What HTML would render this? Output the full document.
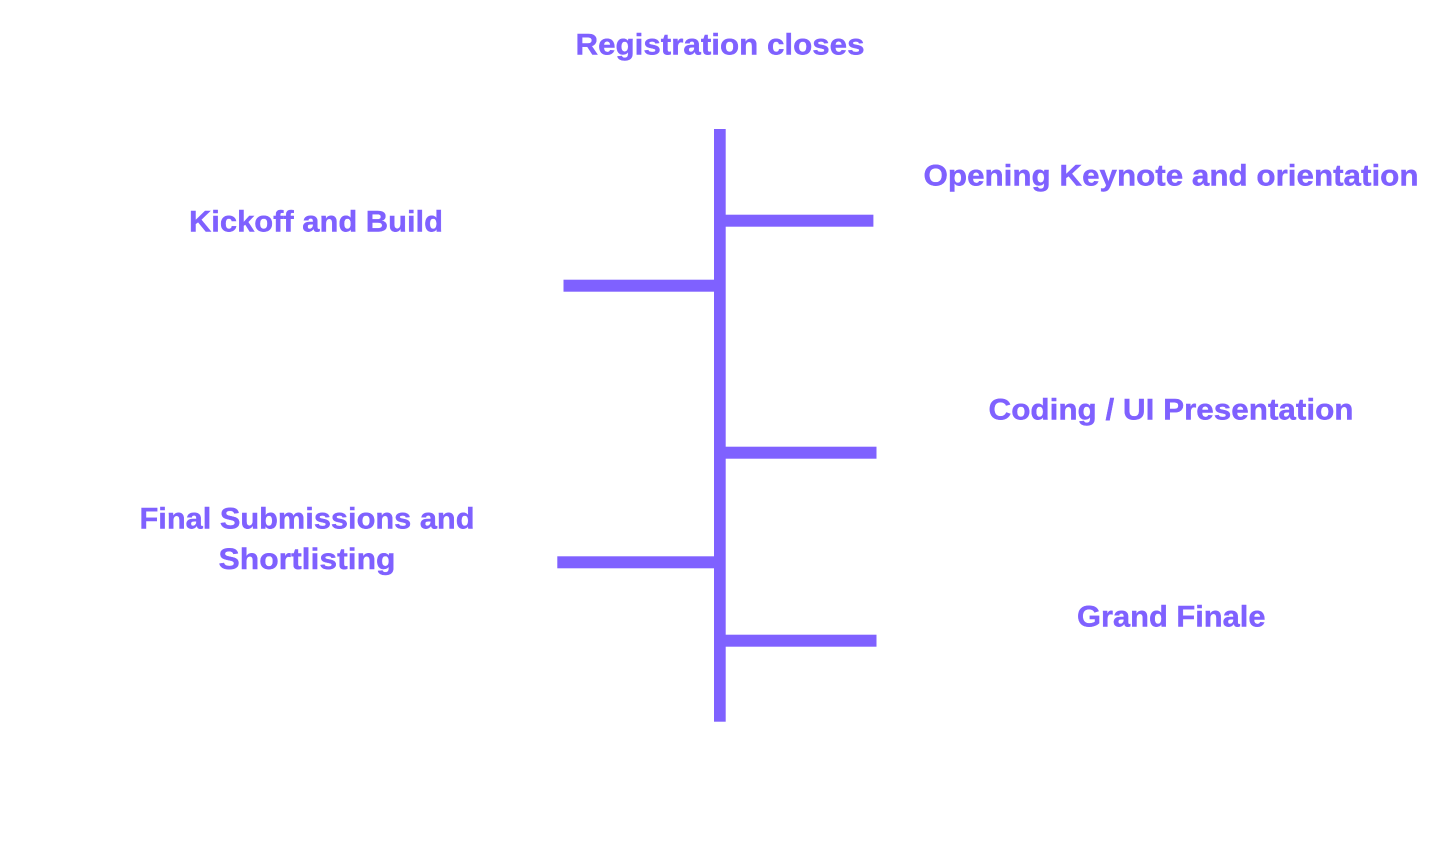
<!DOCTYPE html>
<html>
<head>
<meta charset="utf-8">
<style>
html,body{margin:0;padding:0;background:#fff;width:1440px;height:841px;overflow:hidden}
svg{display:block}
text{font-family:"Liberation Sans",sans-serif;font-weight:700;font-size:30px;fill:#7f61ff;stroke:#7f61ff;stroke-width:0.4px}
rect{fill:#7f61ff}
</style>
</head>
<body>
<svg width="1440" height="841" viewBox="0 0 1440 841" xmlns="http://www.w3.org/2000/svg">
<rect x="714" y="129" width="11.7" height="592.7"/>
<rect x="725" y="214.7" width="148.4" height="12"/>
<rect x="563.5" y="279.7" width="151" height="12"/>
<rect x="725" y="446.7" width="151.5" height="12"/>
<rect x="557.3" y="556.3" width="157.2" height="12"/>
<rect x="725" y="634.7" width="151.5" height="12"/>
<text x="575.5" y="54.5" textLength="289" lengthAdjust="spacingAndGlyphs">Registration closes</text>
<text x="923.5" y="185.5" textLength="495" lengthAdjust="spacingAndGlyphs">Opening Keynote and orientation</text>
<text x="189" y="231.5" textLength="254" lengthAdjust="spacingAndGlyphs">Kickoff and Build</text>
<text x="988.5" y="419.5" textLength="365" lengthAdjust="spacingAndGlyphs">Coding / UI Presentation</text>
<text x="139.5" y="528.5" textLength="335" lengthAdjust="spacingAndGlyphs">Final Submissions and</text>
<text x="218.5" y="569" textLength="177" lengthAdjust="spacingAndGlyphs">Shortlisting</text>
<text x="1077" y="626.5" textLength="188.5" lengthAdjust="spacingAndGlyphs">Grand Finale</text>
</svg>
</body>
</html>
